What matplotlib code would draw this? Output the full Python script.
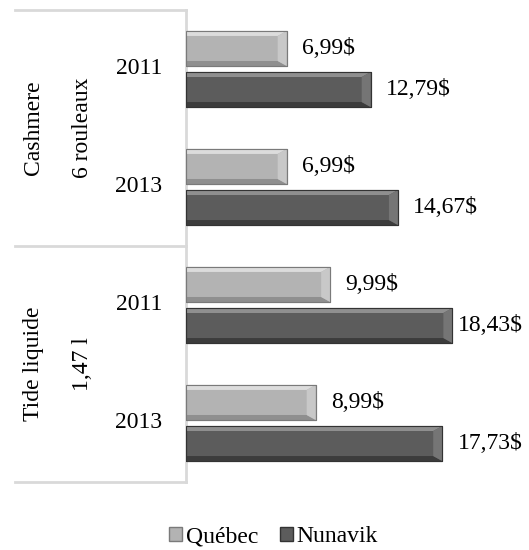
import matplotlib.pyplot as plt
from matplotlib.patches import Patch, Polygon
from matplotlib.transforms import blended_transform_factory

plt.rcParams['font.family'] = 'Liberation Serif'

# data
products = ["Cashmere", "Tide liquide"]
sizes = ["6 rouleaux", "1,47 l"]
years = ["2011", "2013", "2011", "2013"]
quebec = [6.99, 6.99, 9.99, 8.99]
nunavik = [12.79, 14.67, 18.43, 17.73]
series_names = ["Québec", "Nunavik"]

W, H = 529, 550
FS = 17
fig = plt.figure(figsize=(W / 100, H / 100), dpi=100)
left_px = 185.5
ax = fig.add_axes([left_px / W, 1 - 482 / H, 1 - left_px / W, (482 - 10) / H])

ppu = 14.48            # pixels per price unit
xmax = (W - left_px) / ppu
ax.set_xlim(0, xmax)
ax.set_ylim(3.5, -0.5)

pos = list(range(len(years)))
bh = 0.297
off = 0.174

# colours: body, top bevel, bottom bevel, right bevel, edge
styles = {
    "Québec": ('#b3b3b3', '#dcdcdc', '#8f8f8f', '#c8c8c8', '#7a7a7a'),
    "Nunavik": ('#5c5c5c', '#8f8f8f', '#3c3c3c', '#757575', '#333333'),
}

bx = 9 / ppu       # bevel width (x, data units)
by = 5 / 118       # bevel height (y, data units)


def bevel_bars(ys, vals, name):
    body, top, bot, right, edge = styles[name]
    ax.barh(ys, vals, height=bh, color=body, edgecolor=edge,
            linewidth=0.8, zorder=3)
    for y, v in zip(ys, vals):
        t, b = y - bh / 2, y + bh / 2
        ax.add_patch(Polygon([(0, t), (v, t), (v - bx, t + by), (0, t + by)],
                             closed=True, facecolor=top, edgecolor='none', zorder=4))
        ax.add_patch(Polygon([(0, b), (v, b), (v - bx, b - by), (0, b - by)],
                             closed=True, facecolor=bot, edgecolor='none', zorder=4))
        ax.add_patch(Polygon([(v, t), (v, b), (v - bx, b - by), (v - bx, t + by)],
                             closed=True, facecolor=right, edgecolor='none', zorder=4))
        ax.add_patch(Polygon([(0, t), (v, t), (v, b), (0, b)], closed=True,
                             facecolor='none', edgecolor=edge, linewidth=0.8, zorder=5))


bevel_bars([p - off for p in pos], quebec, "Québec")
bevel_bars([p + off for p in pos], nunavik, "Nunavik")

# value labels
labels = []
for p, q, n in zip(pos, quebec, nunavik):
    for v, y in [(q, p - off), (n, p + off)]:
        t = ax.annotate(f"{v:.2f}".replace('.', ',') + "$", xy=(v, y),
                        xytext=(11, 0), textcoords='offset points',
                        va='center', ha='left', fontsize=FS)
        labels.append(t)

fig.canvas.draw()
r = fig.canvas.get_renderer()
for t in labels:
    bb = t.get_window_extent(r)
    if bb.x1 > W - 6:
        t.set_position((11 - (bb.x1 - (W - 6)) * 0.72, 0))

ax.set_xticks([])
ax.set_yticks([])
for s in ['top', 'right', 'bottom']:
    ax.spines[s].set_visible(False)
ax.spines['left'].set_color('#d9d9d9')
ax.spines['left'].set_linewidth(2)

# category axis labels
tr = blended_transform_factory(fig.transFigure, ax.transData)
for p, y in zip(pos, years):
    ax.text(139 / W, p, y, transform=tr, ha='center', va='center', fontsize=FS)
for i, (prod, size) in enumerate(zip(products, sizes)):
    yc = 2 * i + 0.5
    ax.text(33 / W, yc, prod, transform=tr, rotation=90,
            ha='center', va='center', fontsize=FS)
    ax.text(82 / W, yc, size, transform=tr, rotation=90,
            ha='center', va='center', fontsize=FS)

# group separator lines
for yl in [-0.5, 1.5, 3.5]:
    ax.plot([15 / W, left_px / W], [yl, yl], transform=tr, color='#d9d9d9',
            linewidth=2, clip_on=False)

handles = [Patch(facecolor=styles[n][0], edgecolor=styles[n][4]) for n in series_names]
fig.legend(handles, series_names, loc='center', bbox_to_anchor=(273.5 / W, 1 - 537 / H),
           ncol=2, frameon=False, fontsize=FS, handlelength=0.55, handleheight=0.55,
           handletextpad=0.15, columnspacing=0.9)

fig.savefig('out.png', dpi=100)
